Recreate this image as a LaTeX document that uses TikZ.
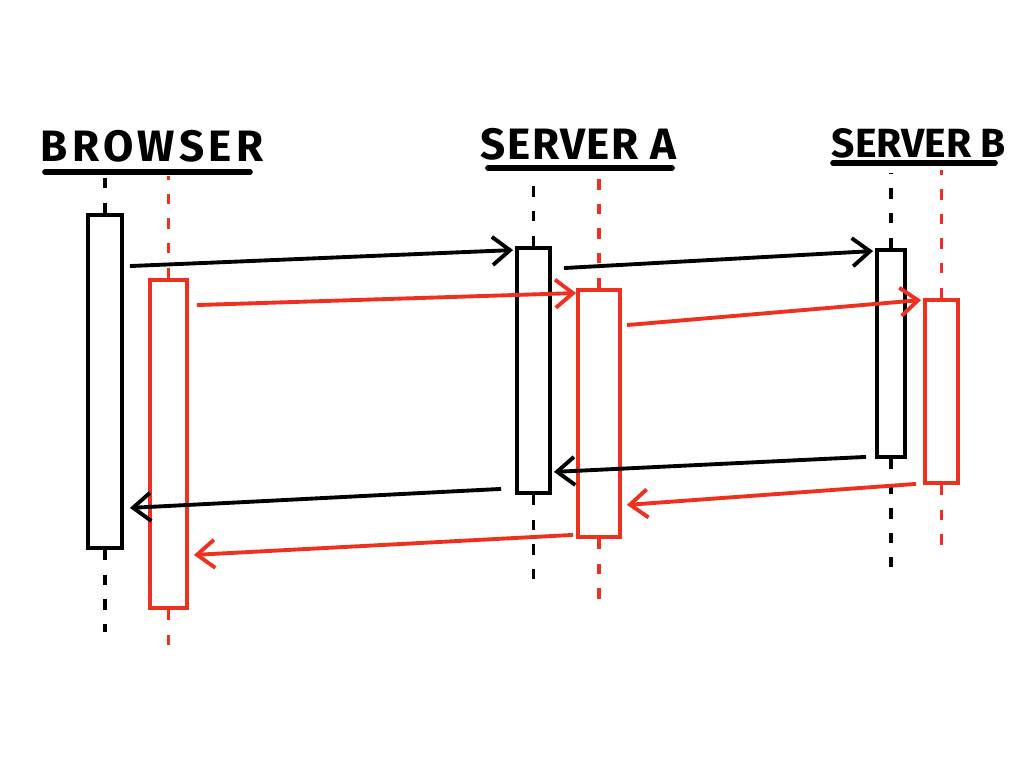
\documentclass[tikz,border=0pt]{standalone}
\usepackage{fontspec}
\newfontfamily\handfont[LetterSpace=10]{Fira Sans}
\usetikzlibrary{arrows.meta, positioning, fit, calc}
\definecolor{markerred}{RGB}{238,48,30}

\tikzset{
    actor/.style={font=\handfont\bfseries\fontsize{12.5}{14}\selectfont, inner sep=0pt, anchor=base west},
    underline/.style={line width=1.6pt, line cap=round},
    actbox/.style={draw, line width=1.1pt, inner sep=0pt},
    lifeline/.style={line width=1.1pt, dash pattern=on 3pt off 4pt},
    msg/.style={line width=1.1pt, -{Straight Barb[length=5pt, width=8pt]}}
}

\begin{document}
\begin{tikzpicture}[x=0.01cm, y=-0.01cm]
        \useasboundingbox (0,0) rectangle (1024,768);

        % Actor labels
        \node[actor] (browser) at (40,162) {BROWSER};
        \node[actor] (servera) at (480,160) {\addfontfeature{LetterSpace=3.5}SERVER A};
        \node[actor] (serverb) at (831,158) {\addfontfeature{LetterSpace=0}\fontsize{11.6}{14}\selectfont SERVER B};
        \draw[underline] (45,172) -- (250,172);
        \draw[underline] (488,168) -- (672,168);
        \draw[underline] (833,163) -- (995,163);

        % Activation boxes (black = first request, red = second)
        \node[actbox, fit={(88,215) (122,548)}] (b1) {};
        \node[actbox, fit={(150,280) (187,608)}, markerred] (r1) {};
        \node[actbox, fit={(517,248) (550,493)}] (b2) {};
        \node[actbox, fit={(578,290) (620,537)}, markerred] (r2) {};
        \node[actbox, fit={(877,250) (905,457)}] (b3) {};
        \node[actbox, fit={(925,300) (958,483)}, markerred] (r3) {};

        % Lifelines
        \draw[lifeline] (b1.north) -- +(0,-35);
        \draw[lifeline] (b1.south) -- +(0,82);
        \draw[lifeline, markerred] (r1.north) -- +(0,-102);
        \draw[lifeline, markerred] (r1.south) -- +(0,37);
        \draw[lifeline] (b2.north) -- +(0,-70);
        \draw[lifeline] (b2.south) -- +(0,97);
        \draw[lifeline, markerred] (r2.north) -- +(0,-115);
        \draw[lifeline, markerred] (r2.south) -- +(0,73);
        \draw[lifeline] (b3.north) -- +(0,-75);
        \draw[lifeline] (b3.south) -- +(0,108);
        \draw[lifeline, markerred] (r3.north) -- +(0,-128);
        \draw[lifeline, markerred] (r3.south) -- +(0,72);

        % Requests
        \draw[msg] ($(b1.north east)+(6,53)$) -- ($(b2.north west)+(-2,4)$);
        \draw[msg, markerred] ($(r1.north east)+(8,27)$) -- ($(r2.north west)+(0,5)$);
        \draw[msg] ($(b2.north east)+(12,22)$) -- ($(b3.north west)+(-2,3)$);
        \draw[msg, markerred] ($(r2.north east)+(5,37)$) -- ($(r3.north west)+(-2,2)$);

        % Responses
        \draw[msg] ($(b3.south west)+(-9,-2)$) -- ($(b2.south east)+(2,-23)$);
        \draw[msg, markerred] ($(r3.south west)+(-7,-1)$) -- ($(r2.south east)+(5,-34)$);
        \draw[msg] ($(b2.south west)+(-14,-6)$) -- ($(b1.south east)+(6,-42)$);
        \draw[msg, markerred] ($(r2.south west)+(-3,-4)$) -- ($(r1.south east)+(5,-55)$);
    \end{tikzpicture}
\end{document}
